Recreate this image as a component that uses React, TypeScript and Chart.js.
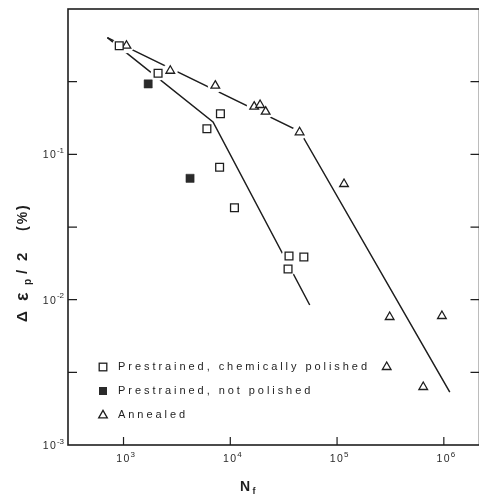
import React, { useEffect, useRef } from 'react';
import { Chart, registerables } from 'chart.js';

Chart.register(...registerables);

// ---- data ----
const chemPolishedN = [912, 2107, 8083, 6039, 7943, 10935, 35480, 48870, 34750];
const chemPolishedAmp = [0.559, 0.361, 0.1904, 0.1498, 0.0814, 0.0429, 0.01997, 0.01965, 0.01625];
const notPolishedN = [1702, 4198];
const notPolishedAmp = [0.305, 0.0684];
const annealedN = [1066, 2742, 7236, 16740, 19010, 21430, 44570, 116200, 310900, 959500, 291700, 641400];
const annealedAmp = [0.559, 0.376, 0.2967, 0.2127, 0.2185, 0.1965, 0.1418, 0.0625, 0.0076, 0.00772, 0.00344, 0.002506];
const prestrainFitN = [706, 6890, 55460];
const prestrainFitAmp = [0.636, 0.167, 0.00919];
const annealedFitN = [706, 44870, 1137000];
const annealedFitAmp = [0.636, 0.1436, 0.002315];

const xTickValues = [1e3, 1e4, 1e5, 1e6];
const xTickExponents = ['3', '4', '5', '6'];
const yLabelValues = [0.1, 0.01, 0.001];
const yLabelExponents = ['-1', '-2', '-3'];
const yTickMarks = [0.316, 0.1, 0.0316, 0.01, 0.00316];
const legendLabels = ['Prestrained, chemically polished', 'Prestrained, not polished', 'Annealed'];

const X_MIN = 302;
const X_MAX = 2.158e6;
const Y_MIN = 0.001;
const Y_MAX = 1;

const CW = 487;
const CH = 496;

const toPts = (xs: number[], ys: number[]) => xs.map((x, i) => ({ x, y: ys[i] }));

const INK = '#1e1e1e';
const FONT = '"Liberation Sans", Arial, sans-serif';

function drawPow(ctx: CanvasRenderingContext2D, exp: string, x: number, y: number, align: 'center' | 'right') {
  ctx.save();
  ctx.fillStyle = '#2a2a2a';
  ctx.textBaseline = 'middle';
  ctx.textAlign = 'left';
  ctx.font = `10.5px ${FONT}`;
  const w1 = ctx.measureText('1').width;
  const w0 = ctx.measureText('0').width;
  const wB = w1 + 1.5 + w0;
  ctx.font = `8px ${FONT}`;
  const wE = ctx.measureText(exp).width;
  const total = wB + 1 + wE;
  const sx = align === 'center' ? x - total / 2 : x - total;
  ctx.font = `10.5px ${FONT}`;
  ctx.fillText('1', sx, y);
  ctx.fillText('0', sx + w1 + 1.5, y);
  ctx.font = `8px ${FONT}`;
  ctx.fillText(exp, sx + wB + 1, y - 4.5);
  ctx.restore();
}

function drawSpaced(ctx: CanvasRenderingContext2D, text: string, x: number, y: number, spacing: number) {
  let cx = x;
  for (const ch of text) {
    ctx.fillText(ch, cx, y);
    cx += ctx.measureText(ch).width + spacing;
  }
}

const decorPlugin = {
  id: 'decor',
  afterDatasetsDraw(chart: any) {
    const { ctx, chartArea: a, scales } = chart;
    const xs = scales.x;
    const ys = scales.y;
    ctx.save();

    // frame
    ctx.strokeStyle = INK;
    ctx.lineWidth = 1.6;
    ctx.strokeRect(a.left, a.top, a.right - a.left, a.bottom - a.top);

    // inward ticks
    ctx.lineWidth = 1.2;
    ctx.beginPath();
    for (const v of xTickValues) {
      const px = xs.getPixelForValue(v);
      ctx.moveTo(px, a.bottom);
      ctx.lineTo(px, a.bottom - 8);
    }
    for (const v of yTickMarks) {
      const py = ys.getPixelForValue(v);
      ctx.moveTo(a.left, py);
      ctx.lineTo(a.left + 9, py);
      ctx.moveTo(a.right, py);
      ctx.lineTo(a.right - 9, py);
    }
    ctx.stroke();

    // tick labels
    xTickValues.forEach((v, i) => {
      drawPow(ctx, xTickExponents[i], xs.getPixelForValue(v) + 2, a.bottom + 14, 'center');
    });
    yLabelValues.forEach((v, i) => {
      drawPow(ctx, yLabelExponents[i], a.left - 4, ys.getPixelForValue(v) + 1, 'right');
    });

    // x title N_f
    ctx.fillStyle = INK;
    ctx.textBaseline = 'middle';
    ctx.textAlign = 'left';
    ctx.font = `bold 14px ${FONT}`;
    ctx.fillText('N', 240, 487.5);
    ctx.font = `bold 9px ${FONT}`;
    ctx.fillText('f', 252.5, 492);

    // y title  Δ ε_p / 2   (%)
    ctx.save();
    ctx.translate(23, 322);
    ctx.rotate(-Math.PI / 2);
    ctx.textBaseline = 'middle';
    ctx.textAlign = 'left';
    ctx.font = `bold 15px ${FONT}`;
    ctx.fillText('Δ', 0, 0);
    ctx.font = `bold 18px ${FONT}`;
    ctx.fillText('ε', 21, 0);
    ctx.font = `bold 10px ${FONT}`;
    ctx.fillText('p', 37, 5);
    ctx.font = `bold 15px ${FONT}`;
    ctx.fillText('/', 48, 0);
    ctx.fillText('2', 61, 0);
    ctx.font = `bold 14px ${FONT}`;
    drawSpaced(ctx, '(%)', 91, 0, 2);
    ctx.restore();

    // legend
    const lx = a.left + 35;
    const tx = a.left + 50;
    const rows = [a.top + 358, a.top + 382, a.top + 406];
    ctx.font = `11px ${FONT}`;
    ctx.fillStyle = '#1e1e1e';
    ctx.textBaseline = 'middle';
    const w0 = ctx.measureText(legendLabels[0]).width;
    const spacing = (249 - w0) / (legendLabels[0].length - 1);
    legendLabels.forEach((t, i) => drawSpaced(ctx, t, tx, rows[i], spacing));

    ctx.strokeStyle = INK;
    ctx.lineWidth = 1.3;
    ctx.strokeRect(lx - 3.8, rows[0] - 3.8, 7.6, 7.6);
    ctx.fillStyle = '#2a2a2a';
    ctx.fillRect(lx - 4, rows[1] - 4, 8, 8);
    ctx.beginPath();
    ctx.moveTo(lx, rows[2] - 4.6);
    ctx.lineTo(lx + 4.3, rows[2] + 2.9);
    ctx.lineTo(lx - 4.3, rows[2] + 2.9);
    ctx.closePath();
    ctx.stroke();

    ctx.restore();
  },
};

export default function App() {
  const ref = useRef<HTMLCanvasElement>(null);

  useEffect(() => {
    document.body.style.margin = '0';
    document.body.style.overflow = 'hidden';
    document.documentElement.style.overflow = 'hidden';
    if (!ref.current) return;

    const halo = (xs: number[], ys: number[]) => ({
      data: toPts(xs, ys),
      showLine: false,
      pointStyle: 'circle',
      pointRadius: 7.5,
      pointBackgroundColor: '#ffffff',
      pointBorderWidth: 0,
      pointBorderColor: '#ffffff',
      order: 1,
    });

    const chart = new Chart(ref.current, {
      type: 'scatter',
      data: {
        datasets: [
          {
            label: legendLabels[0],
            data: toPts(chemPolishedN, chemPolishedAmp),
            pointStyle: 'rect',
            pointRadius: 5.5,
            pointBackgroundColor: '#ffffff',
            pointBorderColor: INK,
            pointBorderWidth: 1.3,
            order: 0,
          },
          {
            label: legendLabels[1],
            data: toPts(notPolishedN, notPolishedAmp),
            pointStyle: 'rect',
            pointRadius: 5.8,
            pointBackgroundColor: '#2a2a2a',
            pointBorderColor: '#2a2a2a',
            pointBorderWidth: 0.5,
            order: 0,
          },
          {
            label: legendLabels[2],
            data: toPts(annealedN, annealedAmp),
            pointStyle: 'triangle',
            pointRadius: 5,
            pointBackgroundColor: '#ffffff',
            pointBorderColor: INK,
            pointBorderWidth: 1.3,
            order: 0,
          },
          halo(chemPolishedN, chemPolishedAmp) as any,
          halo(annealedN, annealedAmp) as any,
          {
            label: 'prestrained fit',
            data: toPts(prestrainFitN, prestrainFitAmp),
            showLine: true,
            pointRadius: 0,
            borderColor: INK,
            borderWidth: 1.5,
            fill: false,
            order: 2,
          },
          {
            label: 'annealed fit',
            data: toPts(annealedFitN, annealedFitAmp),
            showLine: true,
            pointRadius: 0,
            borderColor: INK,
            borderWidth: 1.5,
            fill: false,
            order: 2,
          },
        ],
      },
      options: {
        responsive: false,
        animation: false,
        devicePixelRatio: 1,
        layout: { padding: { left: 68, top: 9, right: CW - 485, bottom: CH - 445 } },
        scales: {
          x: { type: 'logarithmic', min: X_MIN, max: X_MAX, display: false },
          y: { type: 'logarithmic', min: Y_MIN, max: Y_MAX, display: false },
        },
        plugins: {
          legend: { display: false },
          tooltip: { enabled: false },
        },
      },
      plugins: [decorPlugin],
    } as any);

    return () => chart.destroy();
  }, []);

  return (
    <div style={{ width: 479, height: 496, overflow: 'hidden', background: '#ffffff' }}>
      <canvas ref={ref} width={CW} height={CH} style={{ display: 'block', width: CW, height: CH }} />
    </div>
  );
}
